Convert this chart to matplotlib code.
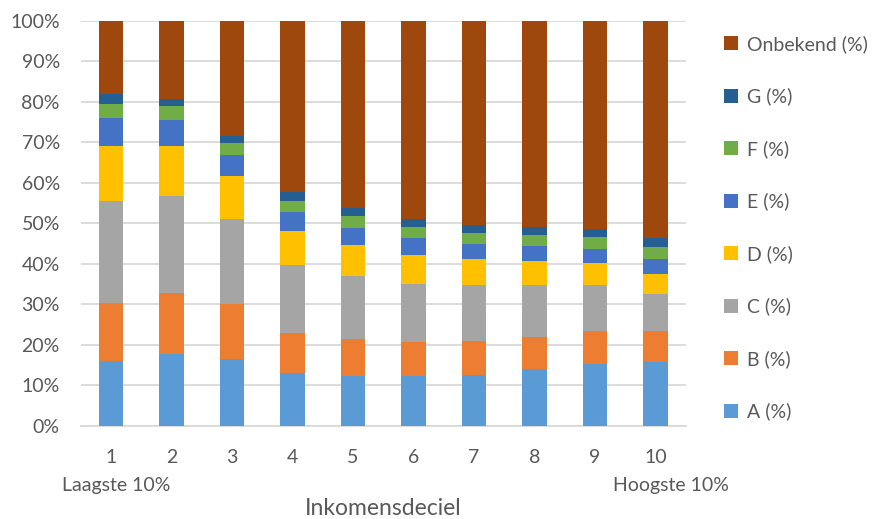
import numpy as np
import matplotlib
matplotlib.use("Agg")
import matplotlib.pyplot as plt
from matplotlib.ticker import PercentFormatter

plt.rcParams['font.family'] = ['Lato', 'DejaVu Sans']

# data (percentages per income decile)
decielen = ['1', '2', '3', '4', '5', '6', '7', '8', '9', '10']
series = ['A (%)', 'B (%)', 'C (%)', 'D (%)', 'E (%)', 'F (%)', 'G (%)', 'Onbekend (%)']
A = [16.0, 17.6, 16.5, 12.9, 12.3, 12.3, 12.6, 13.9, 15.2, 15.8]
B = [14.4, 15.2, 13.5, 10.1, 9.0, 8.4, 8.4, 8.1, 8.1, 7.5]
C = [25.1, 24.0, 21.1, 16.7, 15.6, 14.4, 13.7, 12.7, 11.4, 9.3]
D = [13.7, 12.4, 10.7, 8.4, 7.7, 7.0, 6.5, 6.0, 5.5, 4.9]
E = [6.8, 6.4, 5.1, 4.6, 4.3, 4.3, 3.7, 3.6, 3.5, 3.7]
F = [3.4, 3.3, 2.9, 2.8, 2.9, 2.7, 2.6, 2.8, 2.8, 2.9]
G = [2.5, 1.8, 1.9, 2.3, 1.9, 2.0, 2.1, 1.9, 2.1, 2.3]
onbekend = [18.1, 19.3, 28.3, 42.2, 46.3, 48.9, 50.4, 51.0, 51.4, 53.6]

kleuren = ['#5B9BD5', '#ED7D31', '#A5A5A5', '#FFC000', '#4472C4', '#70AD47', '#255E91', '#9E480E']
tekst = '#595959'

fig = plt.figure(figsize=(8.77, 5.19), dpi=100)
ax = fig.add_axes([0.092, 0.18, 0.690, 0.7795])

x = np.arange(len(decielen))
bottom = np.zeros(len(decielen))
for naam, waarden, kleur in zip(series, [A, B, C, D, E, F, G, onbekend], kleuren):
    ax.bar(x, waarden, 0.4, bottom=bottom, color=kleur, label=naam, zorder=3)
    bottom += np.array(waarden)

ax.set_xlim(-0.5, len(decielen) - 0.5)
ax.set_ylim(0, 100)
ax.set_yticks(np.arange(0, 101, 10))
ax.yaxis.set_major_formatter(PercentFormatter(decimals=0))
ax.set_xticks(x)
ax.set_xticklabels(decielen)
ax.grid(axis='y', color='#D9D9D9', linewidth=1.3, zorder=0)
for s in ['top', 'right', 'left']:
    ax.spines[s].set_visible(False)
ax.spines['bottom'].set_color('#D9D9D9')
ax.spines['bottom'].set_linewidth(1.3)
ax.tick_params(length=0, labelsize=14, labelcolor=tekst)
ax.tick_params(axis='y', pad=15)
ax.tick_params(axis='x', pad=17)

# tweede regel onder de eerste en laatste deciel
trans = ax.get_xaxis_transform()
ax.text(x[0] + 0.08, -0.147, 'Laagste 10%', transform=trans, ha='center', va='center',
        fontsize=14, color=tekst)
ax.text(x[-1] + 0.25, -0.147, 'Hoogste 10%', transform=trans, ha='center', va='center',
        fontsize=14, color=tekst)

ax.set_xlabel('Inkomensdeciel', fontsize=16.5, color=tekst)
ax.xaxis.set_label_coords(0.5, -0.205)
ax.xaxis.label.set_va('center')

h, l = ax.get_legend_handles_labels()
fig.legend(h[::-1], l[::-1], loc='center left', bbox_to_anchor=(0.826, 0.561),
           frameon=False, fontsize=14, labelcolor=tekst, handlelength=0.7,
           handleheight=0.7, handletextpad=0.45, labelspacing=1.78,
           borderpad=0, borderaxespad=0)

plt.savefig('out.png', dpi=100)
